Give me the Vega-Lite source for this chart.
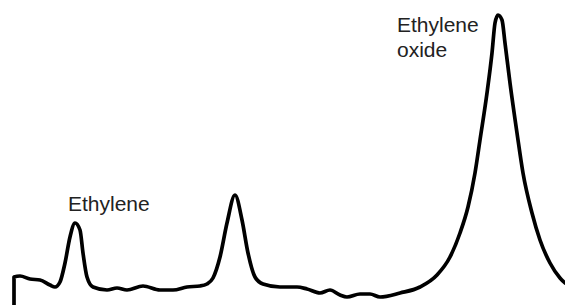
{
  "$schema": "https://vega.github.io/schema/vega-lite/v6.json",
  "width": 565,
  "height": 305,
  "autosize": {"type": "fit", "contains": "padding"},
  "padding": 0,
  "background": "white",
  "config": {"view": {"stroke": null}},
  "datasets": {
    "trace": [
      {"t": 14, "s": 0}, {"t": 14, "s": 28}, {"t": 20, "s": 29}, {"t": 30, "s": 26}, {"t": 40, "s": 25},
      {"t": 50, "s": 20}, {"t": 55, "s": 18}, {"t": 60, "s": 23}, {"t": 65, "s": 42}, {"t": 70, "s": 68},
      {"t": 75, "s": 82}, {"t": 80, "s": 75}, {"t": 83, "s": 52}, {"t": 87, "s": 28}, {"t": 93, "s": 18},
      {"t": 107, "s": 15}, {"t": 117, "s": 17}, {"t": 127, "s": 15}, {"t": 143, "s": 19}, {"t": 160, "s": 15},
      {"t": 173, "s": 15}, {"t": 187, "s": 18}, {"t": 200, "s": 19}, {"t": 207, "s": 21}, {"t": 213, "s": 27},
      {"t": 220, "s": 48}, {"t": 227, "s": 82}, {"t": 235, "s": 110}, {"t": 242, "s": 85}, {"t": 248, "s": 52},
      {"t": 255, "s": 28}, {"t": 263, "s": 21}, {"t": 280, "s": 18}, {"t": 297, "s": 18}, {"t": 307, "s": 16},
      {"t": 320, "s": 12}, {"t": 330, "s": 15}, {"t": 340, "s": 10}, {"t": 347, "s": 8}, {"t": 360, "s": 11},
      {"t": 370, "s": 11}, {"t": 380, "s": 8}, {"t": 400, "s": 12}, {"t": 420, "s": 18}, {"t": 437, "s": 30},
      {"t": 450, "s": 48}, {"t": 460, "s": 72}, {"t": 468, "s": 98}, {"t": 475, "s": 132}, {"t": 480, "s": 165},
      {"t": 487, "s": 212}, {"t": 492, "s": 252}, {"t": 495, "s": 282}, {"t": 498, "s": 290}, {"t": 502, "s": 285},
      {"t": 505, "s": 262}, {"t": 510, "s": 222}, {"t": 517, "s": 172}, {"t": 523, "s": 132}, {"t": 532, "s": 92},
      {"t": 540, "s": 65}, {"t": 550, "s": 42}, {"t": 560, "s": 27}, {"t": 565, "s": 22}
    ],
    "labels": [
      {"t": 68, "s": 94, "label": "Ethylene"},
      {"t": 397, "s": 273, "label": "Ethylene"},
      {"t": 397, "s": 248, "label": "oxide"}
    ]
  },
  "layer": [
    {
      "data": {"name": "trace"},
      "mark": {"type": "line", "color": "black", "strokeWidth": 3.7, "strokeJoin": "round", "strokeCap": "round", "interpolate": "monotone", "clip": true},
      "encoding": {
        "x": {"field": "t", "type": "quantitative", "scale": {"domain": [0, 565], "nice": false, "zero": false}, "axis": null},
        "y": {"field": "s", "type": "quantitative", "scale": {"domain": [0, 305], "nice": false, "zero": false}, "axis": null},
        "order": {"field": "t", "type": "quantitative"}
      }
    },
    {
      "data": {"name": "labels"},
      "mark": {"type": "text", "align": "left", "baseline": "alphabetic", "font": "Liberation Sans", "fontSize": 21, "color": "#222222"},
      "encoding": {
        "x": {"field": "t", "type": "quantitative", "scale": {"domain": [0, 565], "nice": false, "zero": false}, "axis": null},
        "y": {"field": "s", "type": "quantitative", "scale": {"domain": [0, 305], "nice": false, "zero": false}, "axis": null},
        "text": {"field": "label"}
      }
    }
  ]
}
